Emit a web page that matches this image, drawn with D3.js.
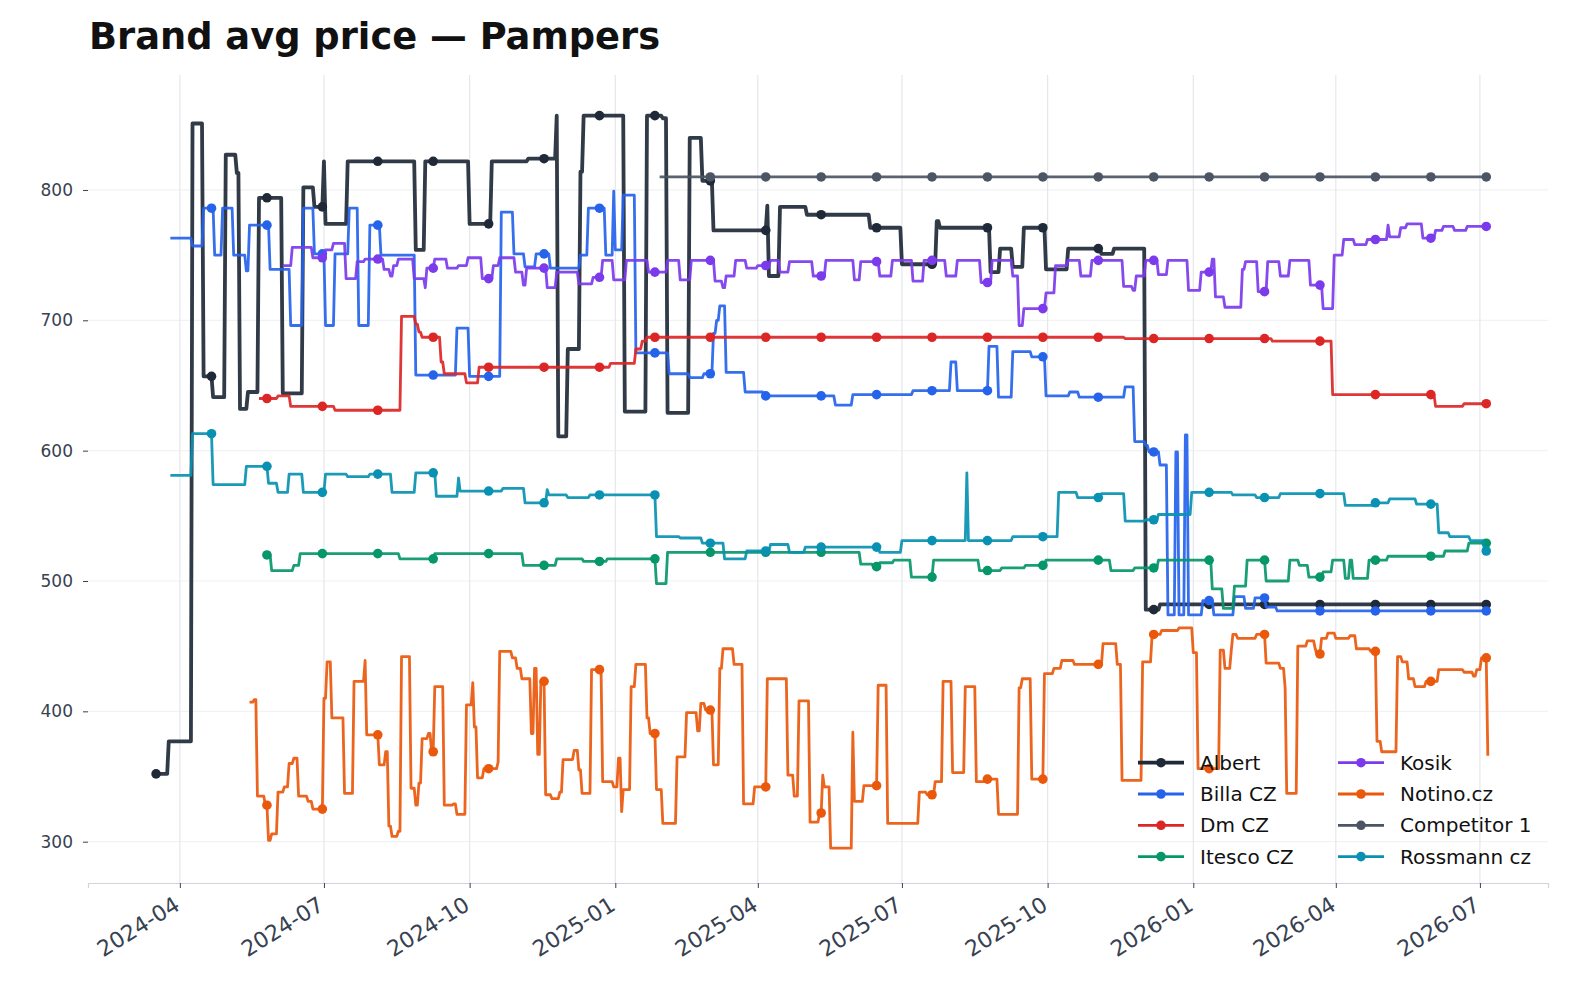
<!DOCTYPE html>
<html>
<head>
<meta charset="utf-8">
<script src="https://cdn.jsdelivr.net/npm/d3@7"></script>
<style>
  body { margin: 0; background: #fff; }
  svg { display: block; font-family: "DejaVu Sans", sans-serif; }
</style>
</head>
<body>
<svg id="chart" width="1576" height="995"></svg>
<script>
// day numbers below count from this date
const startDate = '2024-04-01';

const seriesNames = ['Albert', 'Billa CZ', 'Dm CZ', 'Itesco CZ', 'Kosik', 'Notino.cz', 'Competitor 1', 'Rossmann cz'];
const seriesColors = ['#1f2937', '#2563eb', '#dc2626', '#059669', '#7c3aed', '#ea580c', '#4b5563', '#0891b2'];

const yTicks = [300, 400, 500, 600, 700, 800];
const xTickLabels = ['2024-04', '2024-07', '2024-10', '2025-01', '2025-04', '2025-07', '2025-10', '2026-01', '2026-04', '2026-07'];

// [day, avg price] change points, value holds until the next point
const albert = [[-15,352],[-7,377],[8,851],[15,657],[21,641],[29,827],[36,813],[38,632],[43,645],[50,794],[65,644],[78,802],[85,787],[91,822],[92,774],[106,822],[149,754],[155,822],[183,774],[197,822],[220,824],[238,857],[239,611],[245,678],[253,814],[255,857],[281,630],[295,857],[305,855],[308,629],[322,840],[330,807],[337,769],[371,788],[372,734],[379,787],[396,781],[436,771],[456,743],[478,776],[480,771],[512,737],[518,755],[526,741],[533,771],[547,739],[561,755],[582,751],[590,755],[610,478],[619,482],[825,482]];
const billa = [[-6,763],[8,757],[15,786],[22,750],[27,786],[34,750],[42,738],[44,773],[57,739],[70,696],[78,786],[85,751],[92,696],[98,751],[107,786],[113,696],[120,773],[127,750],[149,658],[175,694],[183,657],[203,783],[211,751],[218,741],[225,751],[234,740],[253,750],[258,786],[269,750],[274,799],[275,754],[280,796],[288,675],[309,659],[322,656],[331,659],[337,690],[339,700],[341,711],[345,660],[357,645],[369,642],[414,635],[425,643],[463,646],[487,668],[491,646],[511,680],[517,641],[526,676],[538,672],[547,642],[562,645],[568,641],[597,649],[603,607],[610,604],[612,599],[619,589],[624,474],[629,599],[631,474],[635,612],[637,474],[646,485],[653,474],[666,488],[673,479],[679,487],[686,480],[693,477],[825,477]];
const dm = [[50,640],[62,642],[70,634],[98,631],[140,703],[149,697],[151,691],[153,687],[165,668],[167,659],[181,652],[189,664],[272,667],[288,678],[292,684],[295,687],[597,686],[690,684],[728,643],[793,634],[811,636],[825,636]];
const itesco = [[55,520],[58,508],[72,512],[76,521],[139,517],[161,521],[217,512],[238,517],[255,515],[270,517],[301,498],[308,522],[430,513],[438,511],[442,514],[451,516],[462,503],[476,516],[505,508],[519,510],[534,512],[547,516],[588,508],[603,510],[618,516],[652,494],[659,479],[666,496],[674,516],[686,500],[701,516],[707,512],[713,503],[722,507],[728,516],[736,502],[739,516],[741,502],[751,516],[763,519],[799,523],[814,529],[825,529]];
const kosik = [[65,742],[71,756],[84,748],[92,754],[97,759],[105,732],[112,745],[117,747],[129,739],[133,734],[135,742],[138,747],[148,732],[155,725],[156,740],[161,747],[169,740],[176,742],[182,748],[191,732],[198,742],[202,748],[212,737],[217,727],[219,740],[232,725],[238,737],[252,728],[261,733],[267,746],[274,731],[282,746],[296,737],[308,746],[316,731],[323,746],[338,730],[343,725],[345,734],[351,746],[358,740],[365,742],[373,746],[379,737],[385,745],[400,734],[408,746],[426,731],[430,745],[442,734],[450,746],[463,730],[470,746],[484,734],[491,746],[506,729],[513,746],[526,734],[530,696],[533,709],[547,721],[553,742],[561,746],[569,734],[576,746],[596,726],[602,723],[604,734],[610,746],[618,735],[624,746],[637,723],[645,737],[652,747],[654,718],[660,710],[671,739],[673,745],[681,722],[687,745],[695,734],[701,746],[714,727],[722,709],[729,750],[735,762],[742,758],[750,762],[763,773],[764,764],[771,771],[775,774],[785,763],[793,769],[798,772],[805,769],[813,772],[825,772]];
const notino = [[44,407],[47,409],[49,335],[54,328],[56,301],[58,306],[62,338],[66,342],[69,360],[72,364],[75,335],[81,331],[84,325],[91,410],[93,438],[96,395],[104,337],[110,423],[117,439],[118,382],[126,359],[130,369],[132,312],[134,304],[138,308],[140,442],[146,341],[149,328],[151,345],[153,379],[157,383],[159,369],[161,419],[167,328],[173,329],[175,321],[181,405],[185,422],[186,388],[188,349],[192,356],[201,361],[202,446],[210,441],[213,433],[216,425],[222,383],[224,433],[226,367],[228,423],[231,336],[235,333],[240,338],[242,363],[249,370],[252,355],[254,337],[260,432],[267,346],[274,342],[277,364],[279,323],[280,340],[285,419],[288,436],[295,395],[297,383],[301,340],[305,314],[314,365],[320,399],[327,385],[329,406],[332,401],[337,359],[341,433],[343,448],[350,436],[356,329],[363,342],[371,425],[384,351],[388,335],[391,408],[398,315],[404,322],[406,351],[407,342],[411,295],[425,384],[426,331],[432,343],[441,420],[447,314],[467,338],[472,336],[477,346],[482,423],[488,353],[496,419],[503,346],[509,348],[517,321],[530,418],[532,425],[538,348],[546,429],[552,433],[557,439],[565,436],[583,452],[592,436],[595,347],[608,438],[614,459],[620,462],[631,464],[640,445],[643,356],[657,447],[660,433],[664,447],[665,459],[668,456],[680,459],[686,437],[695,433],[698,418],[699,337],[706,450],[712,454],[717,448],[718,444],[721,456],[725,460],[730,456],[739,458],[743,448],[752,446],[756,377],[759,369],[769,442],[772,438],[776,425],[780,419],[787,423],[795,432],[811,430],[817,427],[819,432],[822,441],[826,366]];
const competitor1 = [[303,810],[825,810]];
const rossmann = [[-6,581],[8,613],[21,574],[42,588],[56,575],[62,568],[69,582],[78,568],[92,582],[106,580],[120,582],[134,568],[149,583],[162,565],[176,579],[177,569],[204,571],[218,560],[232,570],[233,566],[245,564],[259,566],[301,534],[316,533],[330,529],[344,517],[358,523],[373,528],[385,522],[395,526],[442,522],[456,531],[497,583],[498,531],[526,534],[555,568],[567,564],[582,567],[597,546],[610,547],[618,551],[639,568],[665,566],[680,564],[695,567],[736,558],[754,560],[764,563],[781,559],[795,537],[802,534],[815,531],[824,523],[825,523]];

const seriesData = [albert, billa, dm, itesco, kosik, notino, competitor1, rossmann];

// markers sit on a shared 35-day grid
const markerDays = d3.range(-15, 826, 35);

const svg = d3.select('#chart');
const base = new Date(startDate + 'T00:00:00Z');
const toDate = (d) => d3.utcDay.offset(base, d);

const plot = { left: 88, right: 1548, top: 75, bottom: 883 };

const x = d3.scaleUtc()
  .domain([toDate(-58), toDate(864)])
  .range([plot.left, plot.right]);
const y = d3.scaleLinear()
  .domain([268.3, 888.2])
  .range([plot.bottom, plot.top]);

const xTicks = xTickLabels.map((s) => new Date(s + '-01T00:00:00Z'));

// grid
svg.append('g')
  .selectAll('line')
  .data(yTicks)
  .enter()
  .append('line')
  .attr('x1', plot.left)
  .attr('x2', plot.right)
  .attr('y1', (d) => y(d))
  .attr('y2', (d) => y(d))
  .attr('stroke', '#f1f2f4')
  .attr('stroke-width', 1.2);

svg.append('g')
  .selectAll('line')
  .data(xTicks)
  .enter()
  .append('line')
  .attr('x1', (d) => x(d))
  .attr('x2', (d) => x(d))
  .attr('y1', plot.top)
  .attr('y2', plot.bottom)
  .attr('stroke', '#e5e7eb')
  .attr('stroke-width', 1.2);

// axes
const yAxis = svg.append('g')
  .attr('transform', `translate(${plot.left},0)`)
  .call(d3.axisLeft(y).tickValues(yTicks).tickSize(5).tickPadding(10).tickFormat(d3.format('d')));
yAxis.select('.domain').remove();
yAxis.selectAll('line').attr('stroke', '#374151');
yAxis.selectAll('text')
  .attr('font-size', 17)
  .attr('fill', '#374151')
  .attr('font-family', '"DejaVu Sans", sans-serif');

const xAxis = svg.append('g')
  .attr('transform', `translate(0,${plot.bottom})`)
  .call(d3.axisBottom(x).tickValues(xTicks).tickSize(5).tickFormat((d, i) => xTickLabels[i]));
xAxis.select('.domain').attr('stroke', '#d1d5db').attr('stroke-width', 1.2);
xAxis.selectAll('line').attr('stroke', '#374151');
xAxis.selectAll('text')
  .attr('font-size', 22)
  .attr('fill', '#374151')
  .attr('font-family', '"DejaVu Sans", sans-serif')
  .attr('text-anchor', 'end')
  .attr('dy', '0.75em')
  .attr('transform', 'translate(-12,5) rotate(-32)');

// value of a step series at a given day
function valueAt(points, dayNum) {
  let v = null;
  for (const p of points) {
    if (p[0] <= dayNum) v = p[1];
    else break;
  }
  return v;
}

// daily samples joined by straight lines: each change ramps over one day
function rampPoints(points) {
  const out = [points[0]];
  for (let i = 1; i < points.length; i++) {
    out.push([points[i][0] - 1, points[i - 1][1]]);
    out.push(points[i]);
  }
  return out;
}

const line = d3.line()
  .x((d) => x(toDate(d[0])))
  .y((d) => y(d[1]));

seriesData.forEach((points, i) => {
  const g = svg.append('g');
  const first = points[0][0];
  const last = points[points.length - 1][0];
  const lw = i === 0 ? 3.8 : 2.8;

  g.append('path')
    .datum(rampPoints(points))
    .attr('fill', 'none')
    .attr('stroke', seriesColors[i])
    .attr('stroke-width', lw)
    .attr('stroke-opacity', 0.92)
    .attr('stroke-linejoin', 'round')
    .attr('d', line);

  const marks = markerDays
    .filter((d) => d >= first && d <= Math.min(last, 825))
    .map((d) => [d, valueAt(points, d)]);

  g.selectAll('circle')
    .data(marks)
    .enter()
    .append('circle')
    .attr('cx', (d) => x(toDate(d[0])))
    .attr('cy', (d) => y(d[1]))
    .attr('r', 4.8)
    .attr('fill', seriesColors[i]);
});

// title
svg.append('text')
  .attr('x', 89)
  .attr('y', 49)
  .attr('font-size', 36.8)
  .attr('font-weight', 'bold')
  .attr('fill', '#111111')
  .text('Brand avg price — Pampers');

// legend, two columns of four
const legend = svg.append('g');
seriesNames.forEach((name, i) => {
  const col = Math.floor(i / 4);
  const row = i % 4;
  const lx = col === 0 ? 1138 : 1338;
  const ly = 762.7 + row * 31.3;
  const item = legend.append('g');
  item.append('line')
    .attr('x1', lx)
    .attr('x2', lx + 46)
    .attr('y1', ly)
    .attr('y2', ly)
    .attr('stroke', seriesColors[i])
    .attr('stroke-width', i === 0 ? 3.8 : 2.8);
  item.append('circle')
    .attr('cx', lx + 23)
    .attr('cy', ly)
    .attr('r', 4.8)
    .attr('fill', seriesColors[i]);
  item.append('text')
    .attr('x', lx + 62)
    .attr('y', ly)
    .attr('dy', '0.35em')
    .attr('font-size', 20)
    .attr('fill', '#111111')
    .text(name);
});
</script>
</body>
</html>
